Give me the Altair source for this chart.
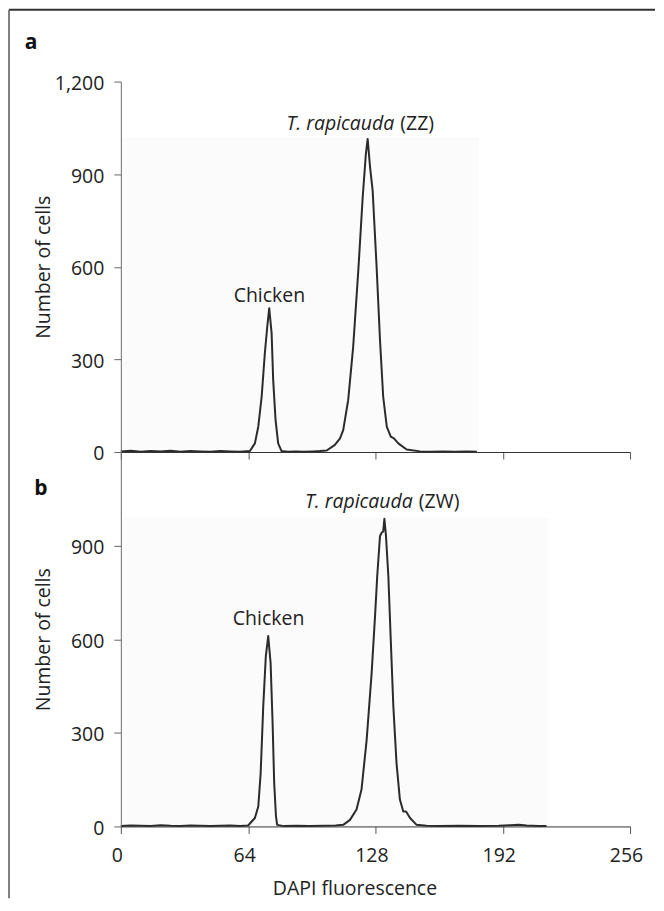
import altair as alt
import pandas as pd

# ---------------- data ----------------
# Panel a: chicken standard + T. rapicauda (ZZ)
dapi_a = [0, 5, 10, 15, 20, 25, 30, 35, 40, 45, 50, 55, 60,
          64.9, 67.4, 69.1, 70.8, 72.4, 73.6, 74.6, 75.8, 76.6, 77.8, 79.1, 80.8,
          84, 88, 92, 96.7, 100,
          103.5, 107.6, 110.2, 111.8, 114.3, 116.8, 119.4, 121.6, 123.2, 124.1,
          125.3, 126.6, 128.6, 130.3, 131.9, 133.7, 135.7, 137.3, 139.5, 143.7, 150.4,
          156, 162, 168, 174, 179]
cells_a = [2, 4, 1, 3, 2, 4, 1, 3, 2, 1, 3, 2, 1,
           3, 28, 82, 179, 320, 405, 466, 385, 233, 103, 28, 3,
           1, 2, 1, 2, 3,
           5, 23, 44, 71, 168, 340, 589, 826, 966, 1014,
           923, 847, 599, 362, 179, 82, 50, 44, 28, 8, 2,
           1, 2, 1, 2, 1]

# Panel b: chicken standard + T. rapicauda (ZW)
dapi_b = [0, 5, 10, 15, 20, 25, 30, 35, 40, 45, 50, 55, 60,
          64.0, 67.4, 69.1, 70.3, 71.6, 72.9, 74.1, 75.3, 76.3, 77.1, 78.0, 78.6,
          82, 88, 95, 102, 108,
          111.8, 115.2, 118.5, 121.0, 123.6, 126.1, 127.8, 128.9, 130.3, 131.1, 131.9, 132.5,
          133.3, 134.5, 135.7, 137.0, 138.6, 140.3, 142.0, 143.4, 145.4, 148.7, 153.7,
          160, 170, 180, 190, 196, 200, 204, 210, 214]
cells_b = [1, 3, 2, 1, 4, 2, 1, 3, 2, 1, 2, 3, 1,
           3, 27, 64, 171, 385, 546, 610, 524, 332, 139, 32, 5,
           1, 2, 1, 2, 3,
           5, 21, 54, 118, 278, 492, 674, 802, 931, 941, 945, 986,
           931, 802, 599, 385, 203, 86, 48, 48, 27, 5, 2,
           1, 2, 1, 2, 4, 5, 3, 1, 1]

# light grey backdrop of the scanned histogram area (x end, y top)
shade_x_end = [180, 215]
shade_y_top = [1020, 990]

# annotations
chicken_x = [74.7, 74.3]
chicken_y = [487, 647]
species_split_x = [139, 148.3]
species_y = [1042, 1019]
species_italic = ["T. rapicauda", "T. rapicauda"]
species_tag = ["(ZZ)", "(ZW)"]

x_ticks = [0, 64, 128, 192, 256]
y_ticks_a = [0, 300, 600, 900, 1200]
y_ticks_b = [0, 300, 600, 900]

FONT = "Open Sans"
FS = 19.5
INK = "#222222"

W, HA, HB = 510, 371, 375


def panel(idx, dapi, cells, y_ticks, height, bottom):
    df = pd.DataFrame({"dapi": dapi, "cells": cells})
    shade = pd.DataFrame({"x": [0], "x2": [shade_x_end[idx]],
                          "y": [0], "y2": [shade_y_top[idx]]})
    ann = pd.DataFrame({"x": [chicken_x[idx]], "y": [chicken_y[idx]], "t": ["Chicken"]})
    sp = pd.DataFrame({"x": [species_split_x[idx]], "y": [species_y[idx]],
                       "it": [species_italic[idx]], "tag": [species_tag[idx]]})

    xscale = alt.Scale(domain=[0, 256], nice=False, zero=False)
    yscale = alt.Scale(domain=[0, 1200], nice=False)

    if bottom:
        xaxis = alt.Axis(values=x_ticks, title="DAPI fluorescence", grid=False,
                         tickSize=7, tickColor="#555555", domainColor="#333333",
                         labelFontSize=FS, labelFont=FONT, labelColor=INK,
                         labelPadding=13, labelOffset=-4, labelFlush=False,
                         labelOverlap=False, format="d",
                         titleFont=FONT, titleFontSize=FS, titleFontWeight="normal",
                         titleColor=INK, titleX=234, titleY=68, titleAlign="center",
                         titleBaseline="alphabetic", zindex=1)
    else:
        xaxis = alt.Axis(values=x_ticks, title=None, labels=False, grid=False,
                         tickSize=7, tickColor="#555555", domainColor="#333333",
                         zindex=1)
    yaxis = alt.Axis(values=y_ticks, title="Number of cells", grid=False, format=",d",
                     tickSize=7, tickColor="#666666", domainColor="#6b6b6b",
                     labelFontSize=FS, labelFont=FONT, labelColor=INK,
                     labelPadding=10, labelOffset=2,
                     titleFont=FONT, titleFontSize=FS, titleFontWeight="normal",
                     titleColor=INK, titleX=-71, titleBaseline="alphabetic",
                     zindex=1)

    bg = alt.Chart(shade).mark_rect(color="#fbfbfb").encode(
        x=alt.X("x:Q", scale=xscale, axis=xaxis),
        x2="x2:Q",
        y=alt.Y("y:Q", scale=yscale, axis=yaxis),
        y2="y2:Q",
    )
    line = alt.Chart(df).mark_line(color="#2b2b2b", strokeWidth=2,
                                   strokeJoin="round").encode(
        x=alt.X("dapi:Q", scale=xscale),
        y=alt.Y("cells:Q", scale=yscale),
        order="dapi:Q",
    )
    chick = alt.Chart(ann).mark_text(font=FONT, fontSize=FS, color=INK,
                                     align="center", baseline="alphabetic").encode(
        x=alt.X("x:Q", scale=xscale), y=alt.Y("y:Q", scale=yscale), text="t:N")
    sp_it = alt.Chart(sp).mark_text(font=FONT, fontSize=FS, color=INK, fontStyle="italic",
                                    align="right", baseline="alphabetic", dx=-3).encode(
        x=alt.X("x:Q", scale=xscale), y=alt.Y("y:Q", scale=yscale), text="it:N")
    sp_tag = alt.Chart(sp).mark_text(font=FONT, fontSize=FS, color=INK,
                                     align="left", baseline="alphabetic", dx=3).encode(
        x=alt.X("x:Q", scale=xscale), y=alt.Y("y:Q", scale=yscale), text="tag:N")

    one = pd.DataFrame({"k": [0]})
    letter = alt.Chart(one).mark_text(font=FONT, fontSize=21, fontWeight="bold",
                                      color="#111111", align="center",
                                      baseline="alphabetic").encode(
        x=alt.value(-90 if idx == 0 else -80),
        y=alt.value(-33 if idx == 0 else 43),
        text=alt.value("a" if idx == 0 else "b"),
    )
    layers = [bg, line, chick, sp_it, sp_tag, letter]
    if idx == 0:
        top = alt.Chart(one).mark_rule(color="#333333", strokeWidth=2).encode(
            x=alt.value(-112), x2=alt.value(535), y=alt.value(-72))
        left = alt.Chart(one).mark_rule(color="#555555", strokeWidth=1.5).encode(
            x=alt.value(-112), y=alt.value(-72), y2=alt.value(818))
        layers += [top, left]
    return alt.layer(*layers).properties(width=W, height=height)


pa = panel(0, dapi_a, cells_a, y_ticks_a, HA, False)
pb = panel(1, dapi_b, cells_b, y_ticks_b, HB, True)

chart = alt.vconcat(pa, pb, spacing=0, bounds="flush").properties(
    padding=0, background="white"
).configure(font=FONT).configure_view(stroke=None)

chart.save("out.html", embed_options={"renderer": "svg", "actions": False})
